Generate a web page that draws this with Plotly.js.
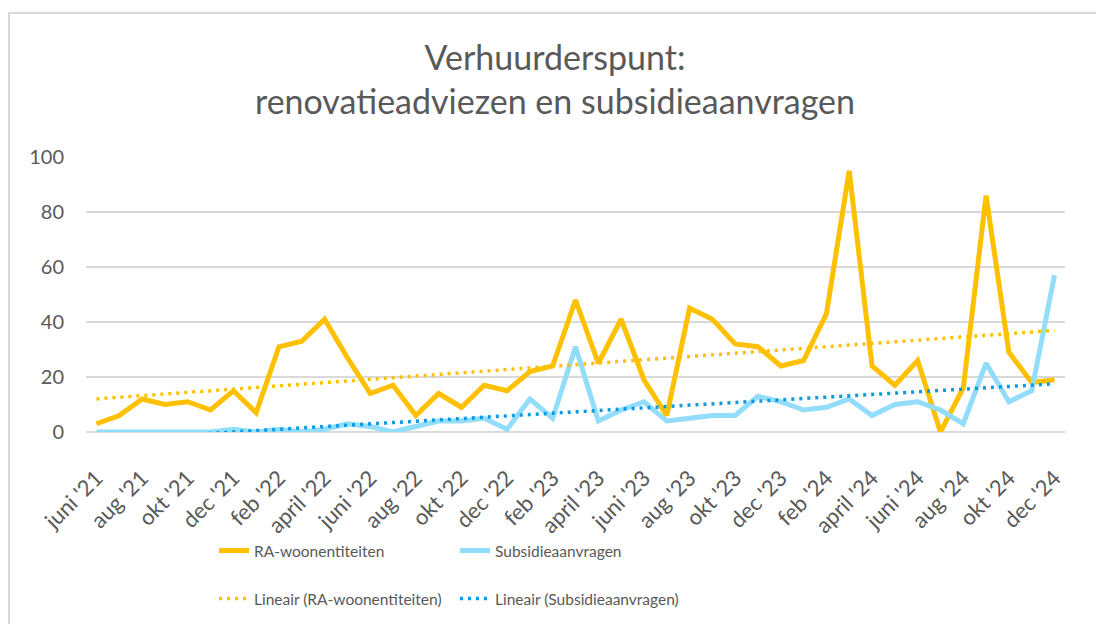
<!DOCTYPE html>
<html>
<head>
<meta charset="utf-8">
<script src="https://cdn.plot.ly/plotly-3.0.1.min.js"></script>
<style>
html,body{margin:0;padding:0;background:#fff;}
#chart{width:1096px;height:624px;}
</style>
</head>
<body>
<div id="chart"></div>
<script>
const months = ["juni '21","juli '21","aug '21","sep '21","okt '21","nov '21","dec '21",
"jan '22","feb '22","maart '22","april '22","mei '22","juni '22","juli '22","aug '22","sep '22","okt '22","nov '22","dec '22",
"jan '23","feb '23","maart '23","april '23","mei '23","juni '23","juli '23","aug '23","sep '23","okt '23","nov '23","dec '23",
"jan '24","feb '24","maart '24","april '24","mei '24","juni '24","juli '24","aug '24","sep '24","okt '24","nov '24","dec '24"];

const tickLabels = ["juni '21","aug '21","okt '21","dec '21","feb '22","april '22","juni '22","aug '22","okt '22","dec '22",
"feb '23","april '23","juni '23","aug '23","okt '23","dec '23","feb '24","april '24","juni '24","aug '24","okt '24","dec '24"];

const raWoonentiteiten = [3,6,12,10,11,8,15,7,31,33,41,27,14,17,6,14,9,17,15,22,24,48,25,41,19,6,45,41,32,31,24,26,43,95,24,17,26,0,16,86,29,18,19];
const subsidieaanvragen = [0,0,0,0,0,0,1,0,1,0,1,3,2,0,2,4,4,5,1,12,5,31,4,8,11,4,5,6,6,13,11,8,9,12,6,10,11,8,3,25,11,15,57];

function linearFit(vals){
  const n = vals.length;
  let sx=0, sy=0, sxx=0, sxy=0;
  vals.forEach((v,i)=>{sx+=i; sy+=v; sxx+=i*i; sxy+=i*v;});
  const b = (n*sxy - sx*sy)/(n*sxx - sx*sx);
  const a = (sy - b*sx)/n;
  return vals.map((v,i)=>a+b*i);
}

const FONT = 'Lato, "Open Sans", sans-serif';
const GREY = '#595959';

const traces = [
  {x: months, y: raWoonentiteiten, type:'scatter', mode:'lines', name:'RA-woonentiteiten',
   line:{color:'#FFC000', width:5}, legend:'legend'},
  {x: months, y: subsidieaanvragen, type:'scatter', mode:'lines', name:'Subsidieaanvragen',
   line:{color:'#92DCFC', width:5}, legend:'legend'},
  {x: months, y: linearFit(raWoonentiteiten), type:'scatter', mode:'lines', name:'Lineair (RA-woonentiteiten)',
   line:{color:'#FFC000', width:3.5, dash:'3px,5px'}, legend:'legend2'},
  {x: months, y: linearFit(subsidieaanvragen), type:'scatter', mode:'lines', name:'Lineair (Subsidieaanvragen)',
   line:{color:'#0A9BE2', width:3.5, dash:'3px,5px'}, legend:'legend2'}
];

const L = 86, R = 31, T = 157, B = 192;
const pw = 1096 - L - R, ph = 624 - T - B;
const px = v => (v - L) / pw;
const py = v => (624 - B - v) / ph;

const layout = {
  width:1096, height:624,
  margin:{l:L, r:R, t:T, b:B, pad:0, autoexpand:false},
  paper_bgcolor:'#fff', plot_bgcolor:'#fff',
  font:{family:FONT, color:GREY},
  title:{text:'Verhuurderspunt:<br>renovatieadviezen en subsidieaanvragen',
    font:{family:FONT, size:34, color:GREY},
    xref:'paper', x:px(555), xanchor:'center',
    yref:'container', y:1-70/624, yanchor:'top'},
  xaxis:{type:'category', range:[-0.46, months.length-1+0.46],
    tickmode:'array', tickvals:tickLabels, ticktext:tickLabels,
    tickangle:-45, tickfont:{family:FONT, size:22, color:GREY},
    ticklabelstandoff:28, automargin:false,
    showgrid:false, zeroline:false, showline:false, ticks:'', fixedrange:true},
  yaxis:{range:[0,100], tickvals:[0,20,40,60,80,100],
    tickfont:{family:FONT, size:20, color:GREY},
    showgrid:true, gridcolor:'#D9D9D9', gridwidth:1.5,
    zeroline:true, zerolinecolor:'#D9D9D9', zerolinewidth:2, automargin:false,
    showline:false, ticks:'', ticklabelstandoff:21, fixedrange:true},
  showlegend:true,
  legend:{orientation:'h', x:px(214), xanchor:'left', y:py(551), yanchor:'middle',
    font:{family:FONT, size:15.5, color:GREY}, entrywidth:196, entrywidthmode:'pixels',
    bgcolor:'rgba(0,0,0,0)'},
  legend2:{orientation:'h', x:px(214), xanchor:'left', y:py(599), yanchor:'middle',
    font:{family:FONT, size:15.5, color:GREY}, entrywidth:196, entrywidthmode:'pixels',
    bgcolor:'rgba(0,0,0,0)'},
  shapes:[{type:'rect', xref:'paper', yref:'paper', x0:px(9), x1:px(1110), y0:py(13), y1:py(640),
    line:{color:'#D9D9D9', width:2}, fillcolor:'rgba(0,0,0,0)', layer:'below'}]
};

Plotly.newPlot('chart', traces, layout, {displayModeBar:false, staticPlot:true});
</script>
</body>
</html>
